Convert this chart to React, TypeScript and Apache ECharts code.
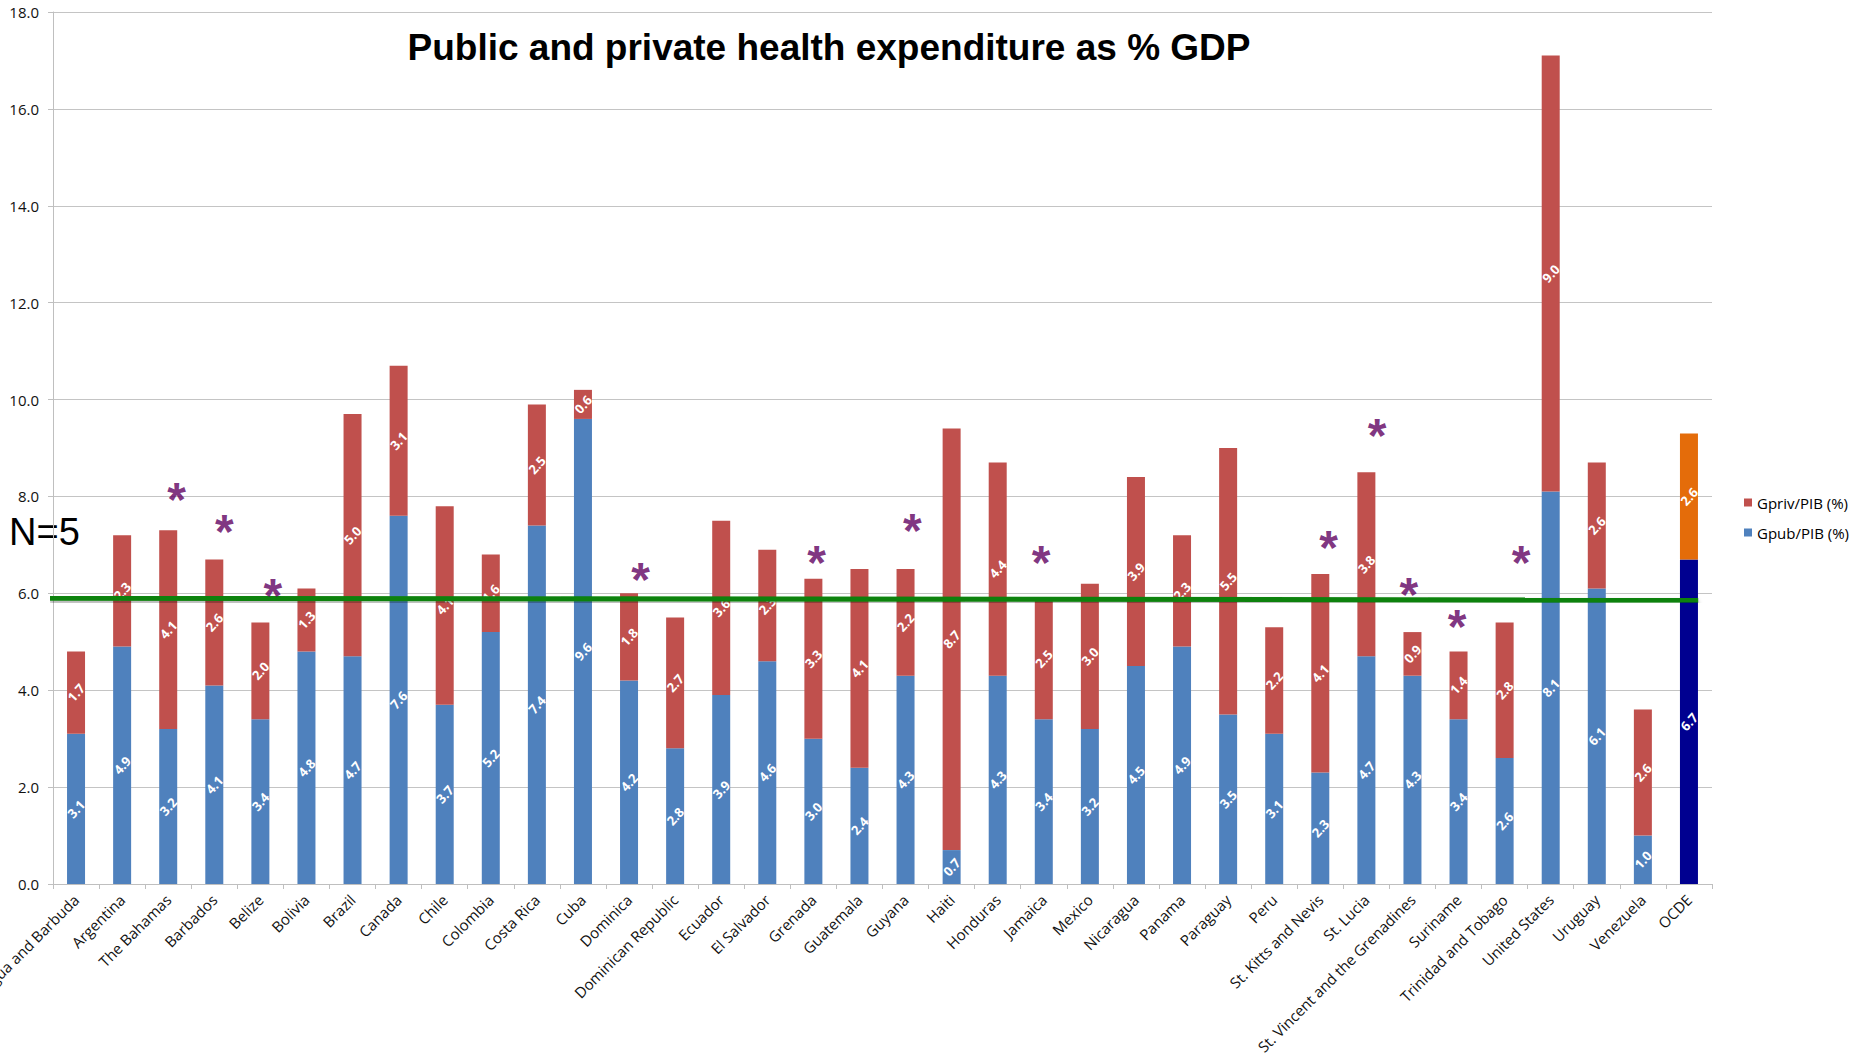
import React, { useEffect, useRef } from "react";
import * as echarts from "echarts";

const countries = [
  "Antigua and Barbuda", "Argentina", "The Bahamas", "Barbados", "Belize", "Bolivia",
  "Brazil", "Canada", "Chile", "Colombia", "Costa Rica", "Cuba", "Dominica",
  "Dominican Republic", "Ecuador", "El Salvador", "Grenada", "Guatemala", "Guyana",
  "Haiti", "Honduras", "Jamaica", "Mexico", "Nicaragua", "Panama", "Paraguay", "Peru",
  "St. Kitts and Nevis", "St. Lucia", "St. Vincent and the Grenadines", "Suriname",
  "Trinidad and Tobago", "United States", "Uruguay", "Venezuela", "OCDE",
];

const publicShare = [
  3.1, 4.9, 3.2, 4.1, 3.4, 4.8, 4.7, 7.6, 3.7, 5.2, 7.4, 9.6, 4.2, 2.8, 3.9, 4.6, 3.0, 2.4,
  4.3, 0.7, 4.3, 3.4, 3.2, 4.5, 4.9, 3.5, 3.1, 2.3, 4.7, 4.3, 3.4, 2.6, 8.1, 6.1, 1.0, 6.7,
];

const privateShare = [
  1.7, 2.3, 4.1, 2.6, 2.0, 1.3, 5.0, 3.1, 4.1, 1.6, 2.5, 0.6, 1.8, 2.7, 3.6, 2.3, 3.3, 4.1,
  2.2, 8.7, 4.4, 2.5, 3.0, 3.9, 2.3, 5.5, 2.2, 4.1, 3.8, 0.9, 1.4, 2.8, 9.0, 2.6, 2.6, 2.6,
];

// asterisk marks (x in category units, y in % GDP)
const asteriskX = [2.18, 3.22, 4.27, 12.25, 16.07, 18.15, 20.94, 27.18, 28.23, 28.92, 29.97, 31.36];
const asteriskY = [8.12, 7.47, 6.14, 6.47, 6.83, 7.48, 6.83, 7.13, 9.44, 6.16, 5.5, 6.83];

// reference line (x in category units, y in % GDP)
const refLineX = [-0.58, 35.2];
const refLineY = [5.9, 5.86];

const yTicks = { min: 0, max: 18, interval: 2 };

const TITLE = "Public and private health expenditure as % GDP";
const PUB_NAME = "Gpub/PIB (%)";
const PRIV_NAME = "Gpriv/PIB (%)";

export default function App() {
  const ref = useRef<HTMLDivElement>(null);

  useEffect(() => {
    if (!ref.current) return;
    const chart = echarts.init(ref.current, undefined, { renderer: "svg" });
    const last = countries.length - 1;
    const barLabel = {
      show: true,
      position: "inside",
      rotate: 48,
      color: "#fff",
      fontSize: 13,
      fontWeight: "bold",
      fontFamily: "Open Sans",
      formatter: (p: any) => Number(p.value).toFixed(1),
    };

    chart.setOption({
      animation: false,
      backgroundColor: "#fff",
      title: {
        text: TITLE,
        left: 824,
        top: 24,
        textAlign: "center",
        textStyle: { fontSize: 37, fontWeight: "bold", fontFamily: "Liberation Sans", color: "#000" },
      },
      legend: {
        orient: "vertical",
        left: 1739,
        top: 490,
        itemWidth: 8,
        itemHeight: 8,
        itemGap: 15,
        icon: "rect",
        data: [PRIV_NAME, PUB_NAME],
        textStyle: { fontSize: 15, fontFamily: "Open Sans", color: "#000" },
      },
      graphic: [
        {
          type: "text",
          x: 9,
          y: 532,
          style: {
            text: "N=5",
            fontSize: 38,
            fontFamily: "Liberation Sans",
            fill: "#000",
            verticalAlign: "middle",
          },
        },
      ],
      grid: { left: 53, right: 138, top: 12, bottom: 177, containLabel: false, outerBoundsMode: "none" },
      xAxis: [
        {
          type: "category",
          data: countries,
          axisLine: { lineStyle: { color: "#bfbfbf" } },
          axisTick: { show: true, length: 5, lineStyle: { color: "#bfbfbf" } },
          axisLabel: {
            interval: 0,
            rotate: 45,
            margin: 13,
            fontSize: 15,
            fontFamily: "Open Sans",
            color: "#111",
          },
        },
        {
          type: "value",
          min: -0.5,
          max: countries.length - 0.5,
          show: false,
        },
      ],
      yAxis: {
        type: "value",
        min: yTicks.min,
        max: yTicks.max,
        interval: yTicks.interval,
        axisLine: { show: true, onZero: false, lineStyle: { color: "#bfbfbf" } },
        axisTick: { show: true, length: 5, lineStyle: { color: "#bfbfbf" } },
        splitLine: { lineStyle: { color: "#c4c4c4" } },
        axisLabel: {
          margin: 14,
          fontSize: 15,
          fontFamily: "Open Sans",
          color: "#111",
          formatter: (v: number) => v.toFixed(1),
        },
      },
      series: [
        {
          name: PUB_NAME,
          type: "bar",
          stack: "total",
          barWidth: 18,
          itemStyle: { color: "#4F81BD" },
          label: barLabel,
          data: publicShare.map((v, i) =>
            i === last ? { value: v, itemStyle: { color: "#000090" } } : v
          ),
        },
        {
          name: PRIV_NAME,
          type: "bar",
          stack: "total",
          barWidth: 18,
          itemStyle: { color: "#C0504D" },
          label: barLabel,
          data: privateShare.map((v, i) =>
            i === last ? { value: v, itemStyle: { color: "#E46C0A" } } : v
          ),
        },
        {
          name: "N=5 line",
          type: "line",
          xAxisIndex: 1,
          symbol: "none",
          silent: true,
          clip: false,
          z: 5,
          lineStyle: {
            color: "#0A820A",
            width: 5,
            shadowColor: "rgba(0,0,0,0.35)",
            shadowBlur: 4,
            shadowOffsetY: 3,
          },
          data: refLineX.map((x, i) => [x, refLineY[i]]),
        },
        {
          name: "asterisks",
          type: "scatter",
          xAxisIndex: 1,
          symbolSize: 1,
          silent: true,
          z: 6,
          itemStyle: { color: "rgba(0,0,0,0)" },
          label: {
            show: true,
            position: "inside",
            formatter: "*",
            fontSize: 48,
            fontWeight: "bold",
            fontFamily: "Liberation Sans",
            color: "#5E0060",
            offset: [0, 9],
          },
          data: asteriskX.map((x, i) => [x, asteriskY[i]]),
        },
      ],
    });
    return () => chart.dispose();
  }, []);

  return (
    <div
      ref={ref}
      style={{ position: "fixed", left: 0, top: 0, width: 1850, height: 1061 }}
    />
  );
}
